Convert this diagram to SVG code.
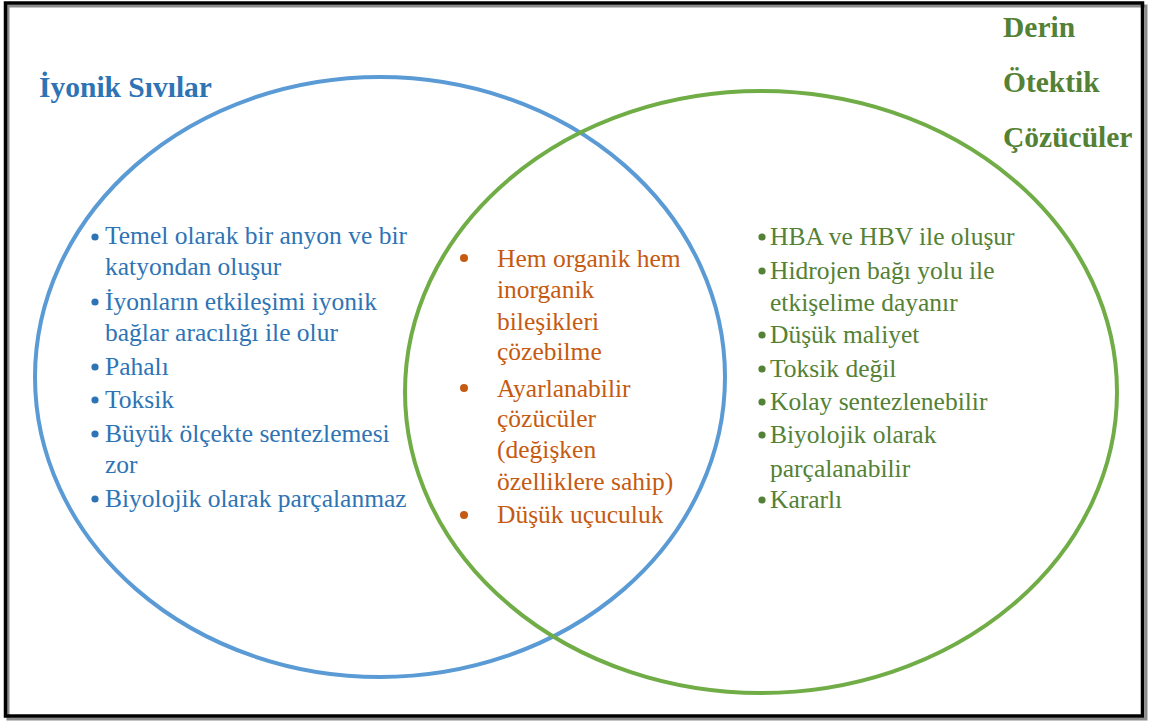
<svg xmlns="http://www.w3.org/2000/svg" width="1150" height="722" viewBox="0 0 1150 722">
  <style>
    .frame { fill: none; stroke: #000; stroke-width: 3.5; }
    .shadow { fill: none; stroke: #8c8c8c; stroke-width: 3; }
    .ring { fill: none; stroke-width: 4; }
    .title { font-family: "Liberation Serif", "Times New Roman", serif; font-weight: bold; font-size: 29.5px; }
    .item { font-family: "Liberation Serif", "Times New Roman", serif; font-size: 25.5px; }
    .blue { fill: #2e74b5; }
    .green { fill: #538135; }
    .orange { fill: #c55a11; }
  </style>

  <rect x="0" y="0" width="1150" height="722" fill="#fff"/>

  <!-- outer frame with a soft drop shadow -->
  <rect class="shadow" x="8" y="6" width="1138" height="713"/>
  <rect class="frame" x="5.5" y="3" width="1137" height="713" fill="#fff"/>

  <!-- the two overlapping sets -->
  <g id="sets">
    <ellipse class="ring" cx="380" cy="377" rx="345" ry="300" stroke="#5b9bd5"/>
    <ellipse class="ring" cx="761" cy="392" rx="356" ry="301" stroke="#70ad47"/>
  </g>

  <!-- left set: ionic liquids -->
  <g id="ionic-liquids">
    <text class="title blue" x="39" y="97">İyonik Sıvılar</text>
    <g class="blue">
      <circle cx="95" cy="237" r="3.6"/>
      <circle cx="95" cy="302" r="3.6"/>
      <circle cx="95" cy="367" r="3.6"/>
      <circle cx="95" cy="400" r="3.6"/>
      <circle cx="95" cy="434" r="3.6"/>
      <circle cx="95" cy="499" r="3.6"/>
    </g>
    <g class="item blue">
      <text x="105" y="244">Temel olarak bir anyon ve bir</text>
      <text x="105" y="275">katyondan oluşur</text>
      <text x="105" y="310">İyonların etkileşimi iyonik</text>
      <text x="105" y="341">bağlar aracılığı ile olur</text>
      <text x="105" y="375">Pahalı</text>
      <text x="105" y="408">Toksik</text>
      <text x="105" y="442">Büyük ölçekte sentezlemesi</text>
      <text x="105" y="473">zor</text>
      <text x="105" y="507">Biyolojik olarak parçalanmaz</text>
    </g>
  </g>

  <!-- overlap: shared properties -->
  <g id="shared">
    <g class="orange">
      <circle cx="464" cy="258" r="4"/>
      <circle cx="464" cy="388" r="4"/>
      <circle cx="464" cy="515" r="4"/>
    </g>
    <g class="item orange">
      <text x="497" y="267">Hem organik hem</text>
      <text x="497" y="298">inorganik</text>
      <text x="497" y="330">bileşikleri</text>
      <text x="497" y="360">çözebilme</text>
      <text x="497" y="397">Ayarlanabilir</text>
      <text x="497" y="427">çözücüler</text>
      <text x="497" y="458">(değişken</text>
      <text x="497" y="490">özelliklere sahip)</text>
      <text x="497" y="523">Düşük uçuculuk</text>
    </g>
  </g>

  <!-- right set: deep eutectic solvents -->
  <g id="deep-eutectic">
    <text class="title green" x="1003" y="37">Derin</text>
    <text class="title green" x="1003" y="92">Ötektik</text>
    <text class="title green" x="1003" y="147">Çözücüler</text>
    <g class="green">
      <circle cx="762" cy="237" r="3.6"/>
      <circle cx="762" cy="271" r="3.6"/>
      <circle cx="762" cy="335" r="3.6"/>
      <circle cx="762" cy="369" r="3.6"/>
      <circle cx="762" cy="402" r="3.6"/>
      <circle cx="762" cy="435" r="3.6"/>
      <circle cx="762" cy="500" r="3.6"/>
    </g>
    <g class="item green">
      <text x="770" y="245">HBA ve HBV ile oluşur</text>
      <text x="770" y="279">Hidrojen bağı yolu ile</text>
      <text x="770" y="311">etkişelime dayanır</text>
      <text x="770" y="343">Düşük maliyet</text>
      <text x="770" y="377">Toksik değil</text>
      <text x="770" y="410">Kolay sentezlenebilir</text>
      <text x="770" y="443">Biyolojik olarak</text>
      <text x="770" y="477">parçalanabilir</text>
      <text x="770" y="508">Kararlı</text>
    </g>
  </g>

  <!-- no connectors in this diagram -->
  <g id="connectors"/>
</svg>
